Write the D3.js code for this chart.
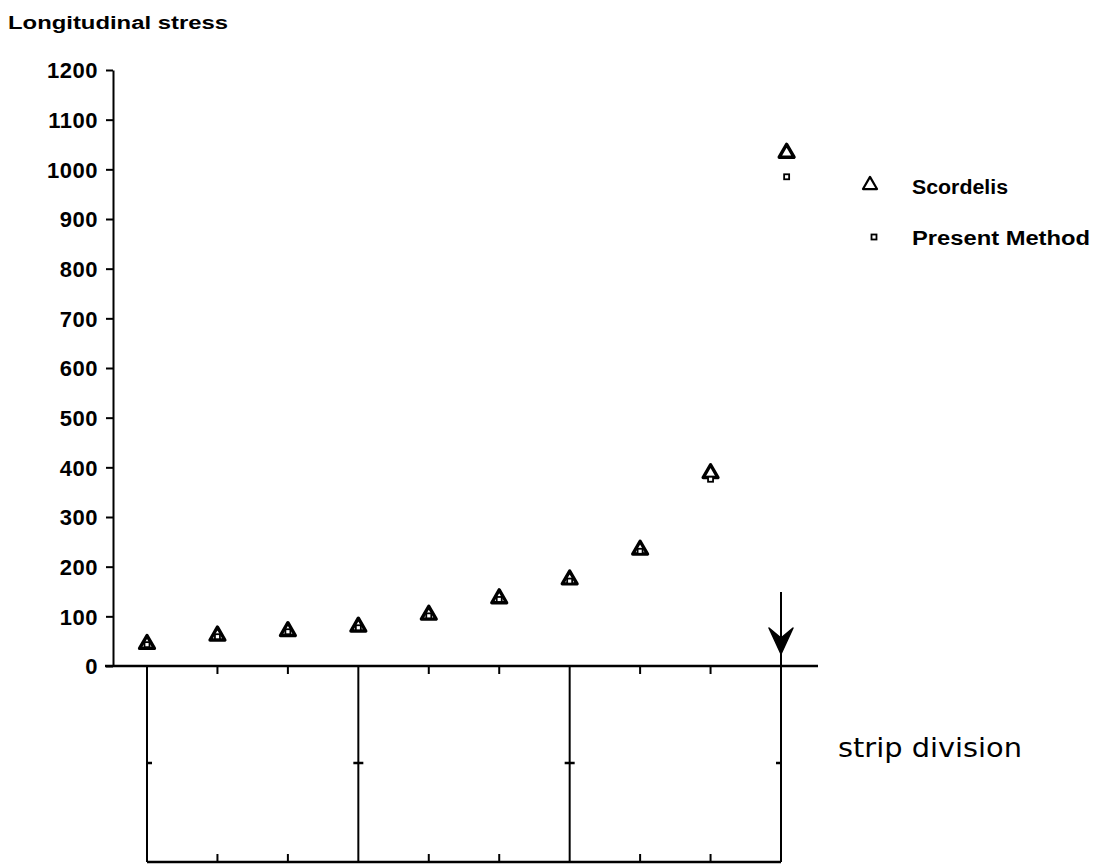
<!DOCTYPE html>
<html>
<head>
<meta charset="utf-8">
<script src="https://cdn.jsdelivr.net/npm/d3@7"></script>
<style>
  html, body { margin: 0; padding: 0; background: #fff; }
  svg { display: block; }
</style>
</head>
<body>
<svg id="chart" width="1100" height="865"></svg>
<script>
// ---- data ----
const stripPos = [0, 1, 2, 3, 4, 5, 6, 7, 8, 9.08];
const scordelis = [44, 61, 70, 79, 103, 136, 174, 234, 388, 1033];
const presentMethod = [43, 59, 69, 77, 101, 134, 171, 231, 376, 985];
const yTicks = [0, 100, 200, 300, 400, 500, 600, 700, 800, 900, 1000, 1100, 1200];
const stripMajor = [0, 3, 6, 9];
const stripMinor = [1, 2, 4, 5, 7, 8];
const seriesNames = ["Scordelis", "Present Method"];
const yTitle = "Longitudinal stress";
const xTitle = "strip division";

// ---- layout ----
const svg = d3.select("#chart");
const x = d3.scaleLinear().domain([0, 9]).range([147, 781]);
const y = d3.scaleLinear().domain([0, 1200]).range([666, 70]);
const axisX = 113;
const stripBottom = 862;
const stripMid = 763;
const font = "'Liberation Sans', Arial, sans-serif";

// y axis
const yAxis = svg.append("g")
  .attr("transform", `translate(${axisX},0)`)
  .call(d3.axisLeft(y).tickValues(yTicks).tickSize(7).tickSizeOuter(0).tickPadding(8).tickFormat(d3.format("d")));
yAxis.select(".domain").attr("stroke", "#000").attr("stroke-width", 2);
yAxis.selectAll(".tick line").attr("stroke", "#000").attr("stroke-width", 2);
yAxis.selectAll(".tick text")
  .attr("fill", "#000")
  .style("font-family", font)
  .style("font-weight", "bold")
  .style("font-size", "22px")
  .style("letter-spacing", "0.5px")
  .attr("dy", "0.36em");

// x axis line
svg.append("line")
  .attr("x1", 105).attr("x2", 818)
  .attr("y1", y(0)).attr("y2", y(0))
  .attr("stroke", "#000").attr("stroke-width", 2.5);

// strip diagram below axis
const g = svg.append("g").attr("stroke", "#000").attr("fill", "none");
g.append("line")
  .attr("x1", x(0)).attr("x2", x(9))
  .attr("y1", stripBottom).attr("y2", stripBottom)
  .attr("stroke-width", 2.5);
g.selectAll(".major").data(stripMajor).enter().append("line")
  .attr("x1", d => x(d)).attr("x2", d => x(d))
  .attr("y1", y(0)).attr("y2", stripBottom)
  .attr("stroke-width", 2);
g.selectAll(".minorTop").data(stripMinor).enter().append("line")
  .attr("x1", d => x(d)).attr("x2", d => x(d))
  .attr("y1", y(0)).attr("y2", y(0) + 8)
  .attr("stroke-width", 2);
g.selectAll(".minorBot").data(stripMinor).enter().append("line")
  .attr("x1", d => x(d)).attr("x2", d => x(d))
  .attr("y1", stripBottom).attr("y2", stripBottom - 8)
  .attr("stroke-width", 2);
g.selectAll(".mid").data(stripMajor).enter().append("line")
  .attr("x1", (d, i) => x(d) - (i === 0 ? 0 : 5))
  .attr("x2", (d, i) => x(d) + (i === stripMajor.length - 1 ? 0 : 5))
  .attr("y1", stripMid).attr("y2", stripMid)
  .attr("stroke-width", 2.5);

// arrow at last strip
const ax = x(9);
svg.append("line")
  .attr("x1", ax).attr("x2", ax)
  .attr("y1", 592).attr("y2", y(0) + 4)
  .attr("stroke", "#000").attr("stroke-width", 2);
svg.append("path")
  .attr("d", `M${ax - 12},628 L${ax},638 L${ax + 12},628 L${ax},654 Z`)
  .attr("fill", "#000").attr("stroke", "#000").attr("stroke-width", 1.5).attr("stroke-linejoin", "round");

// markers
const tri = d3.symbol().type(d3.symbolTriangle).size(95);
const pts = svg.append("g");
pts.selectAll(".tri").data(scordelis).enter().append("path")
  .attr("d", tri)
  .attr("transform", (d, i) => `translate(${x(stripPos[i])},${y(d)})`)
  .attr("fill", "none").attr("stroke", "#000").attr("stroke-width", 3.4).attr("stroke-linejoin", "round");
pts.selectAll(".sq").data(presentMethod).enter().append("rect")
  .attr("x", (d, i) => x(stripPos[i]) - 2.5)
  .attr("y", d => y(d) - 2.5)
  .attr("width", 5).attr("height", 5)
  .attr("fill", "#fff").attr("stroke", "#000").attr("stroke-width", 1.8);

// legend
const leg = svg.append("g");
leg.append("path").attr("d", d3.symbol().type(d3.symbolTriangle).size(85)).attr("transform", "translate(870,185)")
  .attr("fill", "none").attr("stroke", "#000").attr("stroke-width", 2.2).attr("stroke-linejoin", "round");
leg.append("rect").attr("x", 871.5).attr("y", 234.5).attr("width", 5).attr("height", 5)
  .attr("fill", "#fff").attr("stroke", "#000").attr("stroke-width", 1.8);
leg.append("text").attr("x", 912).attr("y", 194)
  .attr("textLength", 96).attr("lengthAdjust", "spacingAndGlyphs")
  .style("font-family", font).style("font-weight", "bold").style("font-size", "20px")
  .text(seriesNames[0]);
leg.append("text").attr("x", 912).attr("y", 245)
  .attr("textLength", 178).attr("lengthAdjust", "spacingAndGlyphs")
  .style("font-family", font).style("font-weight", "bold").style("font-size", "20px")
  .text(seriesNames[1]);

// titles
svg.append("text").attr("x", 8).attr("y", 29)
  .attr("textLength", 220).attr("lengthAdjust", "spacingAndGlyphs")
  .style("font-family", font).style("font-weight", "bold").style("font-size", "18px")
  .text(yTitle);
svg.append("text").attr("x", 838).attr("y", 757)
  .attr("textLength", 184).attr("lengthAdjust", "spacingAndGlyphs")
  .style("font-family", "'DejaVu Sans', sans-serif").style("font-size", "26px")
  .text(xTitle);
</script>
</body>
</html>
